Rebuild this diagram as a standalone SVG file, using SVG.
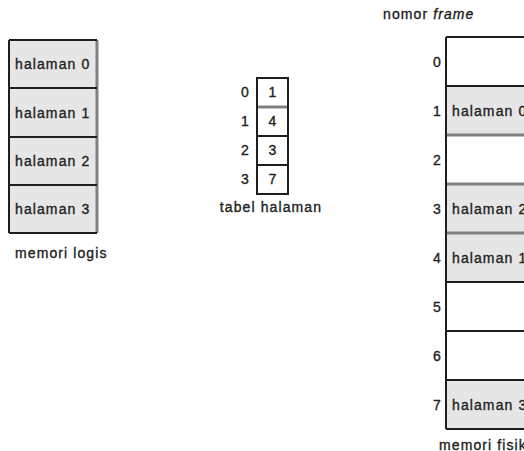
<svg xmlns="http://www.w3.org/2000/svg" width="524" height="451" viewBox="0 0 524 451">
<style>
text{font-family:"Liberation Sans",Arial,sans-serif;font-size:14px;fill:#222222;stroke:#222222;stroke-width:0.35px;letter-spacing:1.1px}
.c{text-anchor:middle}
.r{text-anchor:end}
.pg{fill:#e6e6e6}
.em{fill:#ffffff}
.ln{stroke:#1e1e1e;stroke-width:2;fill:none}
.gl{stroke:#808080;stroke-width:3;fill:none}
</style>
<rect width="524" height="451" fill="#ffffff"/>

<g id="logical-memory">
  <rect class="pg" x="9" y="40" width="88" height="193"/>
  <text x="15" y="69">halaman 0</text>
  <text x="15" y="118">halaman 1</text>
  <text x="15" y="166">halaman 2</text>
  <text x="15" y="214">halaman 3</text>
  <path class="gl" d="M97 40 V233"/>
  <path class="ln" d="M9 40 H97 M9 88 H97 M9 137 H97 M9 185 H97 M9 233 H97 M9 40 V233"/>
  <text x="15" y="258">memori logis</text>
</g>

<g id="page-table">
  <rect class="em" x="257" y="78" width="31" height="116"/>
  <path class="gl" d="M257 107 H288"/>
  <path class="ln" d="M257 78 H288 V194 H257 Z M257 136 H288 M257 165 H288"/>
  <text class="r" x="250" y="97">0</text>
  <text class="r" x="250" y="126">1</text>
  <text class="r" x="250" y="155">2</text>
  <text class="r" x="250" y="184">3</text>
  <text class="c" x="273" y="97">1</text>
  <text class="c" x="273" y="126">4</text>
  <text class="c" x="273" y="155">3</text>
  <text class="c" x="273" y="184">7</text>
  <text class="c" x="271" y="212">tabel halaman</text>
</g>

<g id="physical-memory">
  <text x="383" y="19">nomor <tspan font-style="italic">frame</tspan></text>
  <rect class="em" x="446" y="37" width="90" height="392"/>
  <rect class="pg" x="446" y="86" width="90" height="49"/>
  <rect class="pg" x="446" y="184" width="90" height="98"/>
  <rect class="pg" x="446" y="380" width="90" height="49"/>
  <path class="gl" d="M446 135 H530 M446 184 H530 M446 233 H530"/>
  <path class="ln" d="M446 37 H530 M446 86 H530 M446 282 H530 M446 331 H530 M446 380 H530 M446 429 H530 M446 37 V429"/>
  <text class="r" x="442" y="67">0</text>
  <text class="r" x="442" y="116">1</text>
  <text class="r" x="442" y="165">2</text>
  <text class="r" x="442" y="214">3</text>
  <text class="r" x="442" y="263">4</text>
  <text class="r" x="442" y="312">5</text>
  <text class="r" x="442" y="361">6</text>
  <text class="r" x="442" y="410">7</text>
  <text x="452" y="116">halaman 0</text>
  <text x="452" y="214">halaman 2</text>
  <text x="452" y="263">halaman 1</text>
  <text x="452" y="410">halaman 3</text>
  <text x="439" y="450">memori fisik</text>
</g>

<g id="connectors"></g>
</svg>
